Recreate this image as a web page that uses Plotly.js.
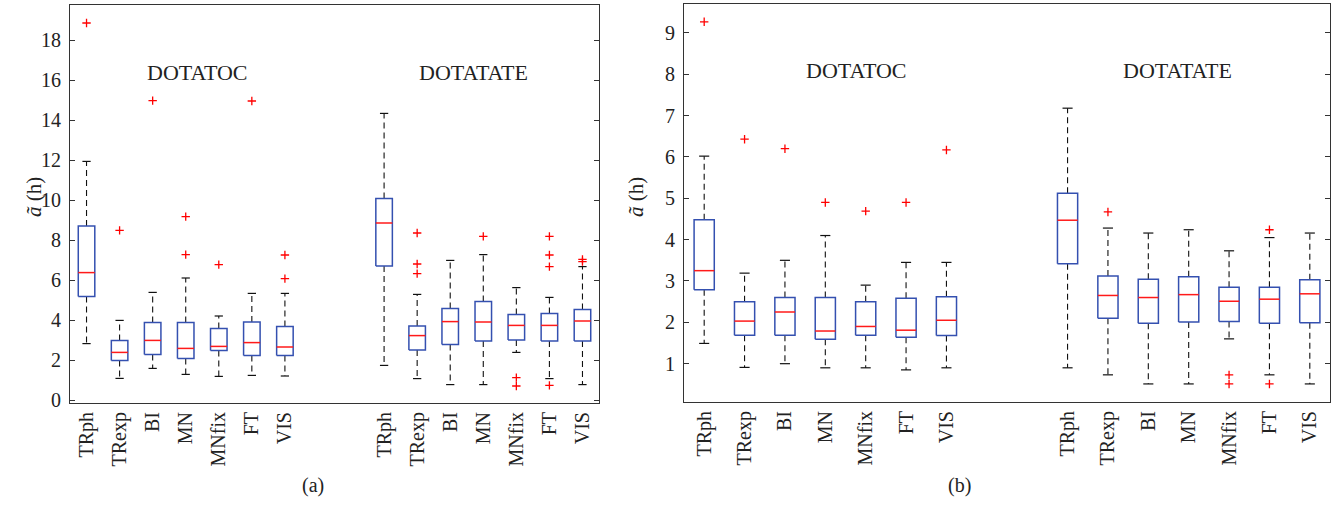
<!DOCTYPE html>
<html>
<head>
<meta charset="utf-8">
<script src="https://cdn.plot.ly/plotly-3.0.1.min.js"></script>
<style>html,body{margin:0;padding:0;background:#fff}#chart{width:1334px;height:510px}</style>
</head>
<body>
<div id="chart"></div>
<script>
// ---- categories ----
const methods = ['TRph', 'TRexp', 'BI', 'MN', 'MNfix', 'FT', 'VIS'];
const groups = ['DOTATOC', 'DOTATATE'];
const captions = ['(a)', '(b)'];
const yTitle = '<i>ã</i> (h)';

// ---- panel (a): DOTATOC ----
const aTocLow = [2.82, 1.08, 1.58, 1.28, 1.18, 1.23, 1.20];
const aTocQ1  = [5.18, 1.97, 2.28, 2.08, 2.48, 2.23, 2.23];
const aTocMed = [6.37, 2.38, 2.98, 2.58, 2.68, 2.87, 2.65];
const aTocQ3  = [8.70, 2.98, 3.88, 3.88, 3.58, 3.90, 3.67];
const aTocHigh = [11.93, 3.98, 5.38, 6.10, 4.20, 5.33, 5.33];
const aTocOut = [[18.85], [8.48], [14.97], [9.17, 7.27], [6.77], [14.95], [7.25, 6.07]];

// ---- panel (a): DOTATATE ----
const aTateLow = [1.73, 1.07, 0.77, 0.77, 2.38, 1.07, 0.77];
const aTateQ1  = [6.70, 2.50, 2.78, 2.95, 3.00, 2.95, 2.95];
const aTateMed = [8.85, 3.22, 3.92, 3.90, 3.73, 3.73, 3.95];
const aTateQ3  = [10.08, 3.70, 4.58, 4.92, 4.28, 4.32, 4.52];
const aTateHigh = [14.33, 5.28, 6.98, 7.27, 5.62, 5.13, 6.67];
const aTateOut = [[], [8.35, 6.80, 6.32], [], [8.18], [1.12, 0.70], [8.18, 7.25, 6.67, 0.73], [7.03, 6.92]];

// ---- panel (b): DOTATOC ----
const bTocLow = [1.49, 0.91, 1.00, 0.90, 0.90, 0.85, 0.90];
const bTocQ1  = [2.79, 1.69, 1.69, 1.59, 1.69, 1.64, 1.68];
const bTocMed = [3.25, 2.03, 2.25, 1.79, 1.90, 1.81, 2.05];
const bTocQ3  = [4.48, 2.50, 2.60, 2.60, 2.50, 2.58, 2.62];
const bTocHigh = [6.02, 3.19, 3.50, 4.10, 2.90, 3.45, 3.45];
const bTocOut = [[9.27], [6.43], [6.20], [4.90], [4.69], [4.90], [6.17]];

// ---- panel (b): DOTATATE ----
const bTateLow = [0.90, 0.73, 0.51, 0.51, 1.60, 0.73, 0.51];
const bTateQ1  = [3.42, 2.10, 1.98, 2.01, 2.02, 1.98, 1.99];
const bTateMed = [4.47, 2.65, 2.60, 2.67, 2.51, 2.56, 2.69];
const bTateQ3  = [5.12, 3.12, 3.04, 3.10, 2.85, 2.85, 3.03];
const bTateHigh = [7.18, 4.28, 4.16, 4.24, 3.73, 4.05, 4.16];
const bTateOut = [[], [4.67], [], [], [0.73, 0.51], [4.24, 0.51], []];

const panels = [
  [
    {low: aTocLow, q1: aTocQ1, med: aTocMed, q3: aTocQ3, high: aTocHigh, out: aTocOut},
    {low: aTateLow, q1: aTateQ1, med: aTateMed, q3: aTateQ3, high: aTateHigh, out: aTateOut}
  ],
  [
    {low: bTocLow, q1: bTocQ1, med: bTocMed, q3: bTocQ3, high: bTocHigh, out: bTocOut},
    {low: bTateLow, q1: bTateQ1, med: bTateMed, q3: bTateQ3, high: bTateHigh, out: bTateOut}
  ]
];

// ---- styling ----
const FONT = 'Liberation Serif, DejaVu Serif, serif';
const TXT = '#222222';
const BOX_BLUE = '#3450b0';
const MED_RED = '#ff1a1a';
const HALF_BOX = 0.25;
const HALF_CAP = 0.125;
const GROUP_GAP = 9;

const traces = [];
const tickvals = [], ticktext = [];
groups.forEach((g, gi) => methods.forEach((m, i) => { tickvals.push(i + 1 + gi * GROUP_GAP); ticktext.push(m); }));

panels.forEach((panel, pi) => {
  const xa = pi === 0 ? 'x' : 'x2';
  const ya = pi === 0 ? 'y' : 'y2';
  const box = {x: [], y: []}, med = {x: [], y: []}, wh = {x: [], y: []}, cap = {x: [], y: []}, out = {x: [], y: []};
  panel.forEach((s, gi) => {
    methods.forEach((m, i) => {
      const p = i + 1 + gi * GROUP_GAP;
      box.x.push(p - HALF_BOX, p + HALF_BOX, p + HALF_BOX, p - HALF_BOX, p - HALF_BOX, null);
      box.y.push(s.q1[i], s.q1[i], s.q3[i], s.q3[i], s.q1[i], null);
      med.x.push(p - HALF_BOX, p + HALF_BOX, null);
      med.y.push(s.med[i], s.med[i], null);
      wh.x.push(p, p, null, p, p, null);
      wh.y.push(s.q3[i], s.high[i], null, s.q1[i], s.low[i], null);
      cap.x.push(p - HALF_CAP, p + HALF_CAP, null, p - HALF_CAP, p + HALF_CAP, null);
      cap.y.push(s.high[i], s.high[i], null, s.low[i], s.low[i], null);
      s.out[i].forEach(v => { out.x.push(p); out.y.push(v); });
    });
  });
  const common = {type: 'scatter', xaxis: xa, yaxis: ya, hoverinfo: 'skip', showlegend: false};
  traces.push(Object.assign({}, common, {x: wh.x, y: wh.y, mode: 'lines', line: {color: '#111', width: 1.1, dash: '6px,4px'}}));
  traces.push(Object.assign({}, common, {x: cap.x, y: cap.y, mode: 'lines', line: {color: '#111', width: 1.2}}));
  traces.push(Object.assign({}, common, {x: box.x, y: box.y, mode: 'lines', line: {color: BOX_BLUE, width: 1.5}}));
  traces.push(Object.assign({}, common, {x: med.x, y: med.y, mode: 'lines', line: {color: MED_RED, width: 1.5}}));
  traces.push(Object.assign({}, common, {x: out.x, y: out.y, mode: 'markers',
    marker: {symbol: 'cross-thin', size: 6, color: '#ff0000', line: {color: '#ff0000', width: 1.3}}}));
});

const W = 1334, H = 510;
const xAxisBase = {
  range: [0.5, 16.5], tickvals: tickvals, ticktext: ticktext, tickangle: -90,
  showgrid: false, zeroline: false, showline: true, mirror: true, linecolor: '#333', linewidth: 1,
  ticks: '', tickfont: {family: FONT, size: 20, color: TXT}, automargin: false, fixedrange: true
};
const yAxisBase = {
  showgrid: false, zeroline: false, showline: true, mirror: 'ticks', linecolor: '#333', linewidth: 1,
  ticks: 'inside', ticklen: 5, tickcolor: '#333', tickfont: {family: FONT, size: 20, color: TXT},
  ticklabelstandoff: 4, automargin: false, fixedrange: true
};

const layout = {
  width: W, height: H,
  margin: {l: 0, r: 0, t: 0, b: 0},
  paper_bgcolor: '#fff', plot_bgcolor: '#fff',
  font: {family: FONT, color: TXT},
  xaxis: Object.assign({}, xAxisBase, {domain: [70 / W, 599 / W], anchor: 'y'}),
  yaxis: Object.assign({}, yAxisBase, {domain: [(H - 403) / H, (H - 5) / H], range: [-0.15, 19.75], dtick: 2, tick0: 0, anchor: 'x'}),
  xaxis2: Object.assign({}, xAxisBase, {domain: [684 / W, 1330 / W], anchor: 'y2'}),
  yaxis2: Object.assign({}, yAxisBase, {domain: [(H - 402) / H, (H - 4) / H], range: [0.073, 9.70], dtick: 1, tick0: 0, anchor: 'x2'}),
  annotations: [
    {xref: 'x', yref: 'y', x: 4.37, y: 16.35, text: groups[0], showarrow: false, font: {family: FONT, size: 22, color: TXT}},
    {xref: 'x', yref: 'y', x: 12.71, y: 16.35, text: groups[1], showarrow: false, font: {family: FONT, size: 22, color: TXT}},
    {xref: 'x2', yref: 'y2', x: 4.78, y: 8.08, text: groups[0], showarrow: false, font: {family: FONT, size: 22, color: TXT}},
    {xref: 'x2', yref: 'y2', x: 12.72, y: 8.08, text: groups[1], showarrow: false, font: {family: FONT, size: 22, color: TXT}},
    {xref: 'paper', yref: 'paper', x: 20 / W, y: (H - 197) / H, text: yTitle, textangle: -90, showarrow: false, font: {family: FONT, size: 21, color: TXT}},
    {xref: 'paper', yref: 'paper', x: 636 / W, y: (H - 197) / H, text: yTitle, textangle: -90, showarrow: false, font: {family: FONT, size: 21, color: TXT}},
    {xref: 'paper', yref: 'paper', x: 300 / W, y: (H - 499) / H, text: captions[0], showarrow: false, font: {family: FONT, size: 20, color: TXT}},
    {xref: 'paper', yref: 'paper', x: 973 / W, y: (H - 499) / H, text: captions[1], showarrow: false, font: {family: FONT, size: 20, color: TXT}}
  ]
};

Plotly.newPlot('chart', traces, layout, {displayModeBar: false, staticPlot: true});
</script>
</body>
</html>
